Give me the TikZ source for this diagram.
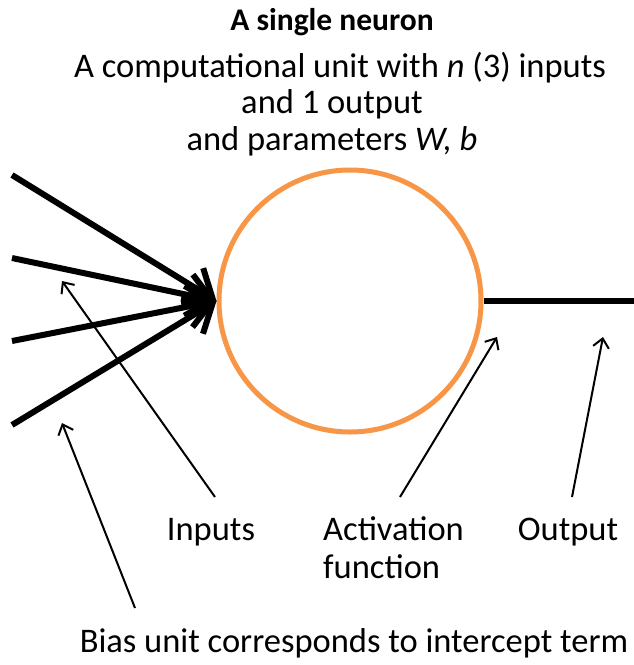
\documentclass[tikz,border=0pt]{standalone}
\usepackage{fontspec}
\setmainfont{Carlito}
\usetikzlibrary{arrows.meta}
\definecolor{neuronorange}{RGB}{247,150,70}
\tikzset{
  txt/.style={inner sep=0pt, anchor=base, font=\fontsize{34.5}{40}\selectfont},
  ttl/.style={inner sep=0pt, anchor=base, font=\fontsize{31.5}{38}\selectfont\bfseries},
  inline/.style={line width=6pt, -{Straight Barb[length=24pt, width=42pt, line width=6pt]}},
  outline/.style={line width=6pt},
  ptr/.style={line width=2pt, -{Straight Barb[length=9pt, width=16pt, line width=2pt]}}
}
\begin{document}
\begin{tikzpicture}[x=1pt,y=-1pt]
\useasboundingbox (0,0) rectangle (633,665);
% title
\node[ttl] (t1) at (332,30) {A single neuron};
\node[txt] (t2) at (340,77) {A computational unit with \textit{n} (3) inputs};
\node[txt] (t3) at (332,113) {and 1 output};
\node[txt] (t4) at (332,150) {and parameters \textit{W, b}};
% neuron
\node[circle, draw=neuronorange, line width=5pt, minimum size=262pt, inner sep=0pt] (neuron) at (350,301) {};
% inputs
\coordinate (i1) at (12,175);
\coordinate (i2) at (12,258);
\coordinate (i3) at (12,341);
\coordinate (i4) at (12,425);
\foreach \i in {1,...,4} \draw[inline] (i\i) -- (neuron.west);
% output
\coordinate (oend) at (640,301);
\draw[outline] (neuron.east) -- (neuron.east -| oend);
% labels
\node[txt] (linputs) at (211,540) {Inputs};
\node[txt, anchor=base west] (lact) at (323,540) {Activation};
\node[txt, anchor=base west] (lfun) at (323,578) {function};
\node[txt] (lout) at (568,540) {Output};
\node[txt] (lbias) at (354,652) {Bias unit corresponds to intercept term};
% pointer arrows
\coordinate (pin0) at (215,497); \coordinate (pin1) at (62,281);
\coordinate (pbi0) at (135,608); \coordinate (pbi1) at (62,423);
\coordinate (pac0) at (400,497); \coordinate (pac1) at (497,337);
\coordinate (pou0) at (572,497); \coordinate (pou1) at (603,337);
\draw[ptr] (pin0) -- (pin1);
\draw[ptr] (pbi0) -- (pbi1);
\draw[ptr] (pac0) -- (pac1);
\draw[ptr] (pou0) -- (pou1);
\end{tikzpicture}
\end{document}
